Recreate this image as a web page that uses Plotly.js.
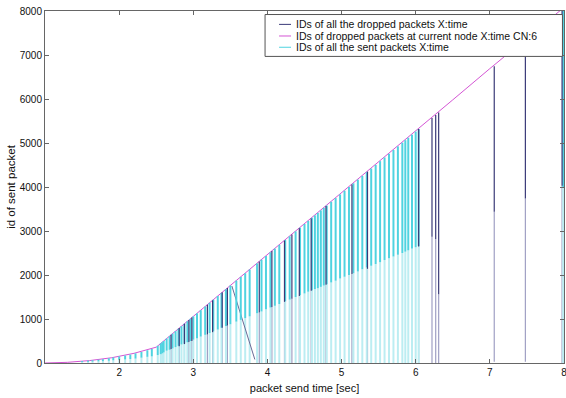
<!DOCTYPE html>
<html>
<head>
<meta charset="utf-8">
<script src="https://cdn.plot.ly/plotly-3.0.1.min.js"></script>
<style>
html,body{margin:0;padding:0;background:#fff;}
#chart{width:566px;height:398px;}
</style>
</head>
<body>
<div id="chart"></div>
<script>
// ---- data ----
// envelope: IDs of dropped packets at current node (time, id)
var nodeDropTime = [1.0, 1.3, 1.6, 1.9, 2.2, 2.5, 3.0, 3.5, 4.0, 4.5, 5.0, 5.5, 6.0, 6.5, 7.0, 7.5, 8.0];
var nodeDropId   = [0, 15, 55, 120, 220, 360, 1060, 1760, 2460, 3160, 3870, 4570, 5270, 5980, 6690, 7390, 8080];

// sent packets: time, top id, id where the dense part ends, lowest id
var sentTime = [1.50,1.58,1.64,1.72,1.78,1.86,1.92,2.00,2.08,2.15,2.22,2.30,2.38,2.44,2.52,2.56,2.58,2.60,
  2.64,2.68,2.72,2.76,2.80,2.84,2.88,2.92,2.96,3.00,3.05,3.10,3.16,3.22,3.27,3.33,3.38,3.44,3.50,3.58,3.64,3.70,3.76,
  3.86,3.92,3.98,4.04,4.10,4.16,4.24,4.30,4.38,4.44,4.50,4.55,4.60,4.64,4.68,4.72,4.76,4.80,4.86,4.92,4.98,
  5.04,5.10,5.16,5.22,5.28,5.34,5.40,5.46,5.52,5.58,5.64,5.70,5.76,5.82,5.86,5.90,5.95,6.00,6.04,7.99];
var sentTop = [45,55,62,75,88,108,125,150,170,190,220,250,290,320,390,445,470,500,
  556,612,668,724,780,836,892,948,1004,1060,1130,1200,1284,1368,1438,1522,1592,1676,1760,1872,1956,2040,2124,
  2264,2348,2432,2516,2600,2684,2796,2880,2992,3076,3160,3230,3300,3356,3412,3468,3524,3580,3664,3748,3832,
  3916,4000,4084,4168,4252,4336,4420,4504,4588,4672,4756,4840,4924,5008,5064,5120,5190,5260,5316,8050];
var sentMid = [20,25,30,35,40,50,60,70,80,90,100,120,140,150,180,200,220,240,
  280,300,330,360,390,420,440,470,500,530,560,600,640,680,720,760,800,840,880,940,980,1020,1060,
  1130,1170,1220,1260,1300,1340,1400,1440,1500,1540,1580,1620,1650,1680,1700,1730,1760,1790,1830,1870,1920,
  1960,2000,2040,2080,2130,2170,2210,2250,2290,2340,2380,2420,2460,2500,2530,2560,2600,2630,2660,4000];
var sentLow = [0,0,0,0,0,0,0,0,0,0,0,0,0,0,0,0,0,0,
  0,0,0,0,0,0,0,0,0,0,0,0,0,0,0,0,0,0,0,0,0,0,0,
  0,0,0,0,0,0,0,0,0,0,0,0,0,0,0,0,0,0,0,0,0,
  0,0,0,0,0,0,0,0,0,0,0,0,0,0,0,0,0,0,0,0,0];

// all dropped packets: time, top id, id where the dark part ends, lowest id
var dropTime = [2.70,2.81,2.88,2.94,2.98,3.19,3.26,3.39,3.46,3.89,4.06,4.23,4.33,4.43,4.59,4.79,5.14,5.35,6.04,6.22,6.27,6.31,7.06,7.48,7.975];
var dropTop  = [640,794,892,976,1032,1326,1424,1606,1704,2306,2544,2782,2922,3062,3286,3566,4056,4350,5316,5568,5638,5694,6744,7332,8025];
var dropMid  = [320,380,430,480,500,650,700,800,850,1150,1270,1390,1460,1520,1640,1780,2020,2140,2650,2870,2820,1560,3440,3740,4030];
var dropLow  = [0,0,0,0,0,0,0,0,0,0,0,0,0,0,0,0,0,0,0,0,0,0,30,30,0];
// one slanted run of dropped packets
var dropRunTime = [3.52, 3.83];
var dropRunId   = [1750, 80];

var xTicks = [2, 3, 4, 5, 6, 7, 8];
var yTicks = [0, 1000, 2000, 3000, 4000, 5000, 6000, 7000, 8000];

var legendLabels = [
  'IDs of all the dropped packets X:time',
  'IDs of dropped packets at current node X:time CN:6',
  'IDs of all the sent packets X:time'
];

// ---- build segments ----
function segs(T, A, B) {
  var x = [], y = [];
  for (var i = 0; i < T.length; i++) {
    x.push(T[i], T[i], null);
    y.push(A[i], B[i], null);
  }
  return {x: x, y: y};
}
var navyC = '#3a3a78', navyPale = '#a0a0c4', magC = '#d455d4', cyanC = '#4fd3e0', cyanPale = '#bcedf2';

var sU = segs(sentTime, sentTop, sentMid);
var sL = segs(sentTime, sentMid, sentLow);
var dU = segs(dropTime, dropTop, dropMid);
var dL = segs(dropTime, dropMid, dropLow);

var traces = [
  {x: dL.x, y: dL.y, mode: 'lines', line: {color: navyPale, width: 1.2}, showlegend: false, hoverinfo: 'skip', name: legendLabels[0]},
  {x: sL.x, y: sL.y, mode: 'lines', line: {color: cyanPale, width: 2}, showlegend: false, hoverinfo: 'skip', name: legendLabels[2]},
  {x: dropRunTime, y: dropRunId, mode: 'lines', line: {color: '#6a6a96', width: 1}, showlegend: false, hoverinfo: 'skip', name: legendLabels[0]},
  {x: nodeDropTime, y: nodeDropId, mode: 'lines', line: {color: magC, width: 1}, name: legendLabels[1], showlegend: false},
  {x: sU.x, y: sU.y, mode: 'lines', line: {color: cyanC, width: 2}, name: legendLabels[2], showlegend: false},
  {x: dU.x, y: dU.y, mode: 'lines', line: {color: navyC, width: 1.2}, name: legendLabels[0], showlegend: false}
];

// ---- manual compact legend (MATLAB style) ----
var legColors = [navyC, magC, cyanC];
var rowY = [0.962, 0.929, 0.897];
var shapes = [{type: 'rect', xref: 'paper', yref: 'paper', x0: 0.424, x1: 0.997, y0: 0.871, y1: 0.990,
  fillcolor: '#ffffff', line: {color: '#555555', width: 1}, layer: 'above'}];
var annotations = [];
for (var i = 0; i < 3; i++) {
  shapes.push({type: 'line', xref: 'paper', yref: 'paper', x0: 0.451, x1: 0.474, y0: rowY[i], y1: rowY[i],
    line: {color: legColors[i], width: 1}, layer: 'above'});
  annotations.push({xref: 'paper', yref: 'paper', x: 0.480, y: rowY[i], xanchor: 'left', yanchor: 'middle',
    text: legendLabels[i], showarrow: false, font: {family: 'Liberation Sans, Arial, sans-serif', size: 10.5, color: '#111'}});
}

var axisCommon = {
  showgrid: false, zeroline: false, showline: true, linecolor: '#666666', linewidth: 1,
  mirror: 'ticks', ticks: 'inside', ticklen: 4, tickcolor: '#666666', ticklabeloverflow: 'allow',
  tickfont: {family: 'Liberation Sans, Arial, sans-serif', size: 10, color: '#111'}
};

var layout = {
  width: 566, height: 398,
  margin: {l: 45, r: 2, t: 11, b: 35},
  paper_bgcolor: '#ffffff', plot_bgcolor: '#ffffff',
  showlegend: false,
  xaxis: Object.assign({}, axisCommon, {
    range: [0.999, 8.001], tickvals: xTicks, ticktext: xTicks.map(String),
    title: {text: 'packet send time [sec]', font: {family: 'Liberation Sans, Arial, sans-serif', size: 11, color: '#111'}, standoff: 7}
  }),
  yaxis: Object.assign({}, axisCommon, {
    range: [0, 8000], tickvals: yTicks, ticktext: yTicks.map(String),
    title: {text: 'id of sent packet', font: {family: 'Liberation Sans, Arial, sans-serif', size: 11.5, color: '#111'}, standoff: 1}
  }),
  shapes: shapes,
  annotations: annotations
};

Plotly.newPlot('chart', traces, layout, {displayModeBar: false, staticPlot: true});
</script>
</body>
</html>
